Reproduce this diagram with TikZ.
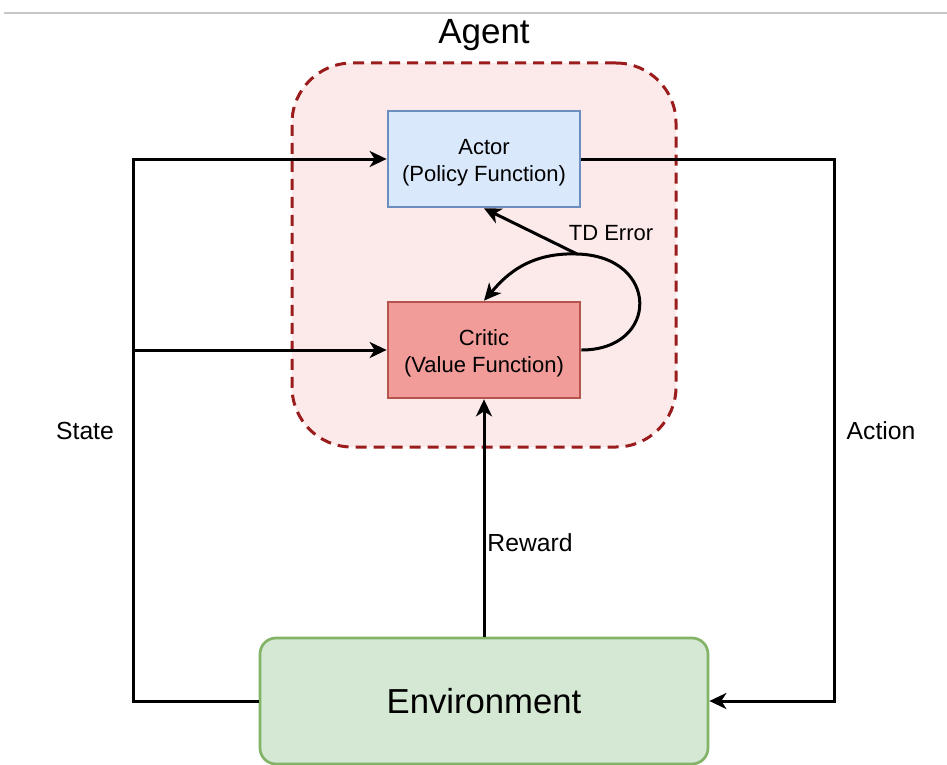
\documentclass[tikz,border=0pt]{standalone}
\usepackage{fontspec}
\setmainfont{Liberation Sans}
\usetikzlibrary{arrows.meta}

\definecolor{agentfill}{HTML}{FCE9E9}
\definecolor{agentline}{HTML}{9B1C1C}
\definecolor{actorfill}{HTML}{DAE8FC}
\definecolor{actorline}{HTML}{6C8EBF}
\definecolor{criticfill}{HTML}{F19C99}
\definecolor{criticline}{HTML}{B85450}
\definecolor{envfill}{HTML}{D5E8D4}
\definecolor{envline}{HTML}{82B366}
\definecolor{rulegray}{HTML}{C8C8C8}

% strut that lowers the two-line block labels a little
\newcommand{\boxstrut}{\rule{0pt}{23pt}}

\begin{document}
\begin{tikzpicture}[x=1pt,y=-1pt,
  box/.style={draw, line width=2.7pt, minimum width=192pt, minimum height=96pt,
    align=center, inner sep=0pt, font=\fontsize{22}{27}\selectfont},
  flow/.style={line width=3pt, -{Stealth[length=17pt,width=16pt,inset=5pt]}},
  wire/.style={line width=3pt},
  lbl/.style={font=\fontsize{24.7}{28}\selectfont}
]
\useasboundingbox (0,0) rectangle (947,765);

% top rule
\draw[rulegray, line width=1.5pt] (4,13) -- (947,13);

% agent container
\node[draw=agentline, fill=agentfill, line width=3pt, dash pattern=on 11pt off 7pt,
  rounded corners=60pt, minimum width=384pt, minimum height=384pt, inner sep=0pt]
  (agent) at (484,255) {};
\node[font=\fontsize{35}{40}\selectfont] (agentlbl) at (484,35) {Agent};

% blocks
\node[box, draw=actorline, fill=actorfill] (actor) at (484,159) {\boxstrut Actor\\(Policy Function)};
\node[box, draw=criticline, fill=criticfill] (critic) at (484,350) {\boxstrut Critic\\(Value Function)};
\node[box, draw=envline, fill=envfill, minimum width=448pt, minimum height=126pt,
  rounded corners=16pt, font=\fontsize{34.7}{40}\selectfont] (env) at (484,701) {Environment};

% routing points
\coordinate (sBot) at (133,701);
\coordinate (sTop) at (133,159);
\coordinate (sMid) at (133,350);
\coordinate (aTop) at (834,159);
\coordinate (aBot) at (834,701);
\coordinate (td) at (577,254);

% state
\draw[flow] (env.west) -- (sBot) -- (sTop) -- (actor.west);
\draw[flow] (sMid) -- (critic.west);

% action
\draw[flow] (actor.east) -- (aTop) -- (aBot) -- (env.east);

% reward
\draw[flow] (env.north) -- (critic.south);

% TD error loop
\draw[wire] (critic.east) .. controls (660,350) and (660,256) .. (td);
\draw[flow] (td) -- (actor.south);
\draw[flow] (td) .. controls (525,252) and (502,280) .. (critic.north);

% labels
\node[lbl] (statelbl) at (85,431) {State};
\node[lbl] (actionlbl) at (881,431) {Action};
\node[lbl] (rewardlbl) at (530,543) {Reward};
\node[font=\fontsize{22}{26}\selectfont] (tdlbl) at (611,233) {TD Error};
\end{tikzpicture}
\end{document}
